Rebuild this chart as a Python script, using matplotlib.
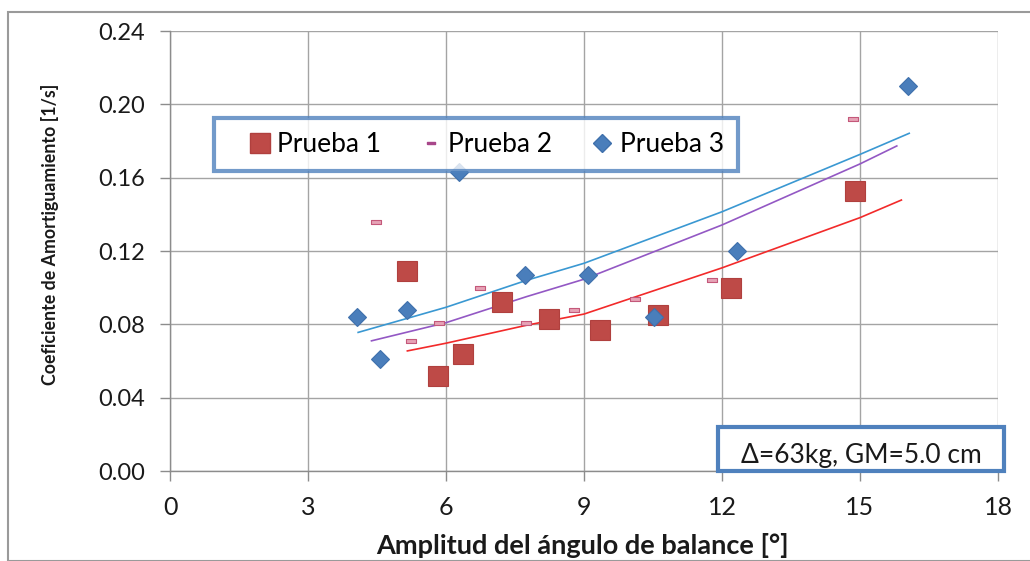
import numpy as np
import matplotlib.pyplot as plt
from matplotlib.lines import Line2D
from matplotlib.patches import Rectangle

plt.rcParams['font.family'] = ['Lato', 'DejaVu Sans']

# Prueba 1
x1 = [5.15, 5.83, 6.37, 7.22, 8.24, 9.35, 10.60, 12.20, 14.90]
y1 = [0.109, 0.052, 0.064, 0.092, 0.083, 0.077, 0.085, 0.100, 0.153]
# Prueba 2
x2 = [4.47, 5.23, 5.85, 6.74, 7.74, 8.78, 10.11, 11.78, 14.85]
y2 = [0.136, 0.071, 0.081, 0.100, 0.081, 0.088, 0.094, 0.104, 0.192]
# Prueba 3
x3 = [4.07, 4.57, 5.15, 6.28, 7.72, 9.09, 10.52, 12.32, 16.04]
y3 = [0.084, 0.061, 0.088, 0.163, 0.107, 0.107, 0.084, 0.120, 0.210]

series = ['Prueba 1', 'Prueba 2', 'Prueba 3']

# lineas de tendencia
t1_x = [5.16, 6.0, 7.75, 9.0, 12.0, 15.0, 15.9]
t1_y = [0.0655, 0.0697, 0.0795, 0.0856, 0.1108, 0.1382, 0.1478]
t2_x = [4.38, 6.0, 7.75, 9.0, 12.0, 15.0, 15.8]
t2_y = [0.0710, 0.0809, 0.0951, 0.1046, 0.1342, 0.1675, 0.1773]
t3_x = [4.09, 6.0, 7.75, 9.0, 12.0, 15.0, 16.07]
t3_y = [0.0756, 0.0893, 0.1040, 0.1133, 0.1414, 0.1727, 0.1842]

xticks = [0, 3, 6, 9, 12, 15, 18]
yticks = [0.00, 0.04, 0.08, 0.12, 0.16, 0.20, 0.24]

fig = plt.figure(figsize=(10.30, 5.61), dpi=100)
ax = fig.add_axes([170/1030, 1 - 471/561, 828/1030, 440/561])

# marco del grafico
fig.patches.append(Rectangle((8/1030, 0), 1.0, 1 - 12/561, transform=fig.transFigure,
                             fill=False, edgecolor='#9a9a9a', lw=1.5, zorder=0))

grid_c = '#a4a4a4'
for v in xticks:
    ax.axvline(v, color=grid_c, lw=1.0, zorder=0)
for v in yticks:
    ax.axhline(v, color=grid_c, lw=1.0, zorder=0)

ax.plot(t1_x, t1_y, color='#f22a2a', lw=1.2, zorder=2)
ax.plot(t2_x, t2_y, color='#9358c4', lw=1.2, zorder=2)
ax.plot(t3_x, t3_y, color='#3a98d2', lw=1.2, zorder=2)

dash = [(-1, -0.35), (1, -0.35), (1, 0.35), (-1, 0.35), (-1, -0.35)]
ax.plot(x1, y1, ls='none', marker='s', ms=14, mfc='#be4a47', mec='#b0403e', mew=0.8, zorder=3)
ax.plot(x2, y2, ls='none', marker=dash, ms=7, mfc='#e6a3b6', mec='#c4587a', mew=0.8, zorder=3)
ax.plot(x3, y3, ls='none', marker='D', ms=9.5, mfc='#4a7ebb', mec='#3f70ac', mew=0.8, zorder=4)

ax.set_xlim(0, 18)
ax.set_ylim(0, 0.24)
ax.set_xticks(xticks)
ax.set_yticks(yticks)
ax.set_xticklabels([str(v) for v in xticks])
ax.set_yticklabels([f'{v:.2f}' for v in yticks])
for s in ['top', 'right']:
    ax.spines[s].set_visible(False)
for s in ['left', 'bottom']:
    ax.spines[s].set_color('#8c8c8c')
    ax.spines[s].set_linewidth(1.0)
ax.tick_params(axis='both', colors='#8c8c8c', length=7, width=1.0, labelcolor='#1a1a1a')
ax.tick_params(axis='y', pad=11, labelsize=17)
ax.tick_params(axis='x', pad=11, labelsize=18)

ax.set_xlabel('Amplitud del ángulo de balance [°]', fontsize=19.5, fontweight='bold',
              color='#1a1a1a')
ax.xaxis.set_label_coords(412/828, -62/440)
ax.set_ylabel('Coeficiente de Amortiguamiento [1/s]', fontsize=12.8, fontweight='bold',
              color='#1a1a1a')
ax.yaxis.set_label_coords(-111/828, 237/440)

handles = [
    Line2D([], [], ls='none', marker='s', ms=14, mfc='#be4a47', mec='#b0403e'),
    Line2D([], [], ls='none', marker=dash, ms=6, mfc='#a8478a', mec='#a8478a'),
    Line2D([], [], ls='none', marker='D', ms=9.5, mfc='#4a7ebb', mec='#3f70ac'),
]
leg = ax.legend(handles, series, ncol=3, loc='upper left',
                bbox_to_anchor=(44/828, 353/440), frameon=True, fancybox=False,
                fontsize=19, handlelength=2.4, handletextpad=-0.55, columnspacing=0.7,
                borderpad=0.53, borderaxespad=0)
leg.get_frame().set_edgecolor('#4f81bd')
leg.get_frame().set_linewidth(3.0)
leg.set_zorder(6)

# cuadro de condiciones del ensayo
ax.add_patch(Rectangle((548/828, 0.5/440), 286/828, 44/440, transform=ax.transAxes,
                       facecolor='white', edgecolor='#4f81bd', lw=3.0, clip_on=False, zorder=6))
ax.text(691/828, 15/440, 'Δ=63kg, GM=5.0 cm', transform=ax.transAxes, ha='center',
        va='center', fontsize=19, color='#1a1a1a', zorder=7)

fig.savefig('out.png', dpi=100)
